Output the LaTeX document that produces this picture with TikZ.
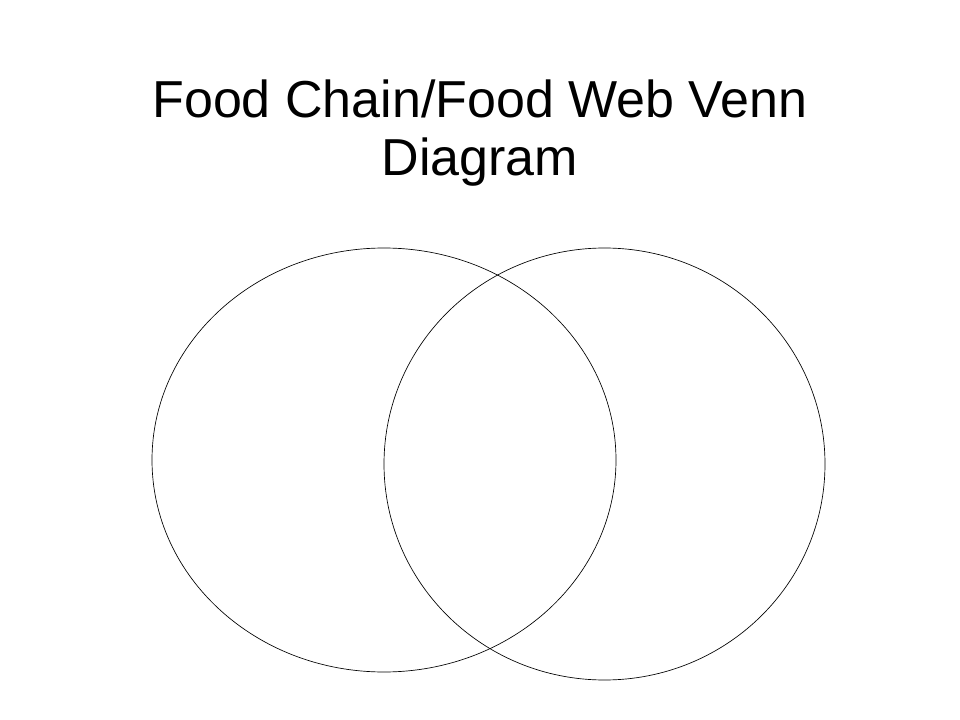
\documentclass[tikz,border=0pt]{standalone}
\usepackage{fontspec}
\setmainfont{Liberation Sans}
\usetikzlibrary{shapes.geometric}
\tikzstyle{setring} = [ellipse, draw=black, line width=0.5pt, inner sep=0pt]
\tikzstyle{heading} = [font=\fontsize{39}{44}\selectfont, align=center, text=black]
\begin{document}
\begin{tikzpicture}[x=0.75pt,y=-0.75pt]
\useasboundingbox (0,0) rectangle (960,720);
\node (title) [heading] at (480,133) {Food Chain/Food Web Venn\\Diagram};
\node (chain) [setring, minimum width=464*0.75pt, minimum height=424*0.75pt] at (384,460) {};
\node (web) [setring, minimum width=441*0.75pt, minimum height=432*0.75pt] at (604.5,464) {};
\end{tikzpicture}
\end{document}
